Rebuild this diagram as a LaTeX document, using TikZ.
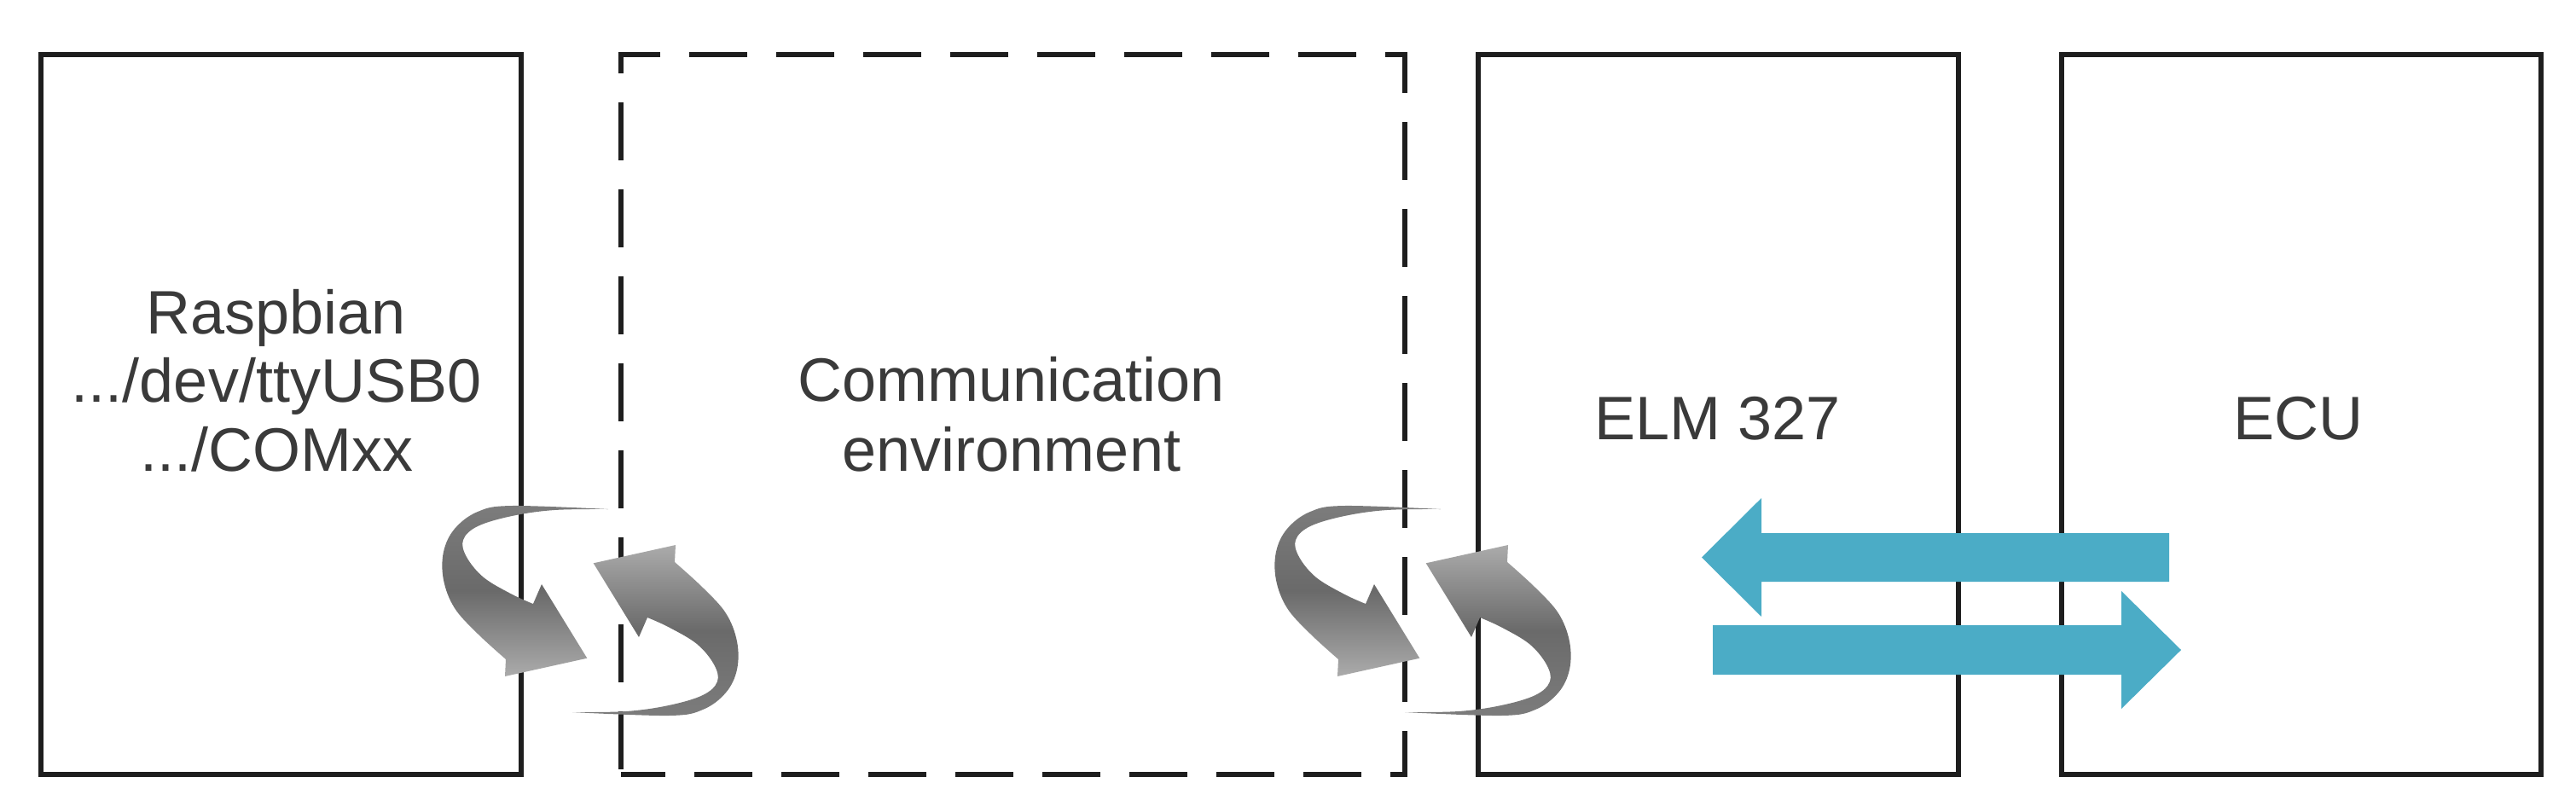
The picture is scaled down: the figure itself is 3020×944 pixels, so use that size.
\documentclass[tikz,border=0pt]{standalone}
\usepackage{fontspec}
\setmainfont{Liberation Sans}
\definecolor{ln}{HTML}{1E1E1E}
\definecolor{tx}{HTML}{3A3A3A}
\definecolor{bl}{HTML}{4BACC6}
\definecolor{gdark}{HTML}{6A6A6A}
\definecolor{gmid}{HTML}{7C7C7C}
\definecolor{glight}{HTML}{ABABAB}
\newcommand{\swirlpath}[1]{%
  plot[smooth, tension=0.6] coordinates {
    ({#1*(21)},{#1*(-119)}) ({#1*(-92)},{#1*(-123)}) ({#1*(-132)},{#1*(-116)})
    ({#1*(-159)},{#1*(-96)}) ({#1*(-172)},{#1*(-69)}) ({#1*(-172)},{#1*(-36)})
    ({#1*(-159)},{#1*(-3)}) ({#1*(-132)},{#1*(27)}) ({#1*(-99)},{#1*(57)})}
  -- ({#1*(-100)},{#1*(77)}) -- ({#1*(-3.7)},{#1*(55.7)}) -- ({#1*(-57)},{#1*(-31)})
  -- plot[smooth, tension=0.6] coordinates {
    ({#1*(-67)},{#1*(-8)}) ({#1*(-92)},{#1*(-19.3)}) ({#1*(-125)},{#1*(-39)})
    ({#1*(-145)},{#1*(-63)}) ({#1*(-149)},{#1*(-83)}) ({#1*(-132)},{#1*(-99)})
    ({#1*(-92)},{#1*(-111)}) ({#1*(-42)},{#1*(-118)}) ({#1*(21)},{#1*(-119)})}
  -- cycle}
\tikzset{
  box/.style={draw=ln, line width=2.6pt, minimum width=#1, minimum height=422pt, inner sep=0pt},
  lbl/.style={font=\fontsize{36pt}{40pt}\selectfont, text=tx, inner sep=0pt, anchor=base},
  bigarrow/.style={fill=bl},
  swirldown/.style={top color=gmid, bottom color=glight, middle color=gdark},
  swirlup/.style={top color=glight, bottom color=gmid, middle color=gdark}
}
\begin{document}
\begin{tikzpicture}[x=0.5pt, y=-0.5pt]
\useasboundingbox (0,0) rectangle (3020,944);
% boxes
\node[box=281.5pt] (rpi) at (329.5,486) {};
\node[box=459.5pt, dash pattern=on 34pt off 17pt, dash phase=8pt] (comm) at (1187.5,486) {};
\node[box=281.5pt] (elm) at (2014.5,486) {};
\node[box=281pt] (ecu) at (2698,486) {};
% labels
\node[lbl] (r1) at (324,391) {Raspbian};
\node[lbl] (r2) at (324,471) {.../dev/ttyUSB0};
\node[lbl] (r3) at (324,552) {.../COMxx};
\node[lbl] (c1) at (1186,470) {Communication};
\node[lbl] (c2) at (1186,552) {environment};
\node[lbl] (e1) at (2014,515) {ELM 327};
\node[lbl] (e2) at (2694,515) {ECU};
% blue arrows
\fill[bigarrow] (2543,625) -- (2065,625) -- (2065,584) -- (1995,653.5) -- (2065,723) -- (2065,682) -- (2543,682) -- cycle;
\fill[bigarrow] (2008,733) -- (2487,733) -- (2487,693) -- (2557,762) -- (2487,831) -- (2487,791) -- (2008,791) -- cycle;
% swirl arrows
\begin{scope}[shift={(692,716)}]
  \path[swirldown] \swirlpath{1};
  \path[swirlup] \swirlpath{-1};
\end{scope}
\begin{scope}[shift={(1668,716)}]
  \path[swirldown] \swirlpath{1};
  \path[swirlup] \swirlpath{-1};
\end{scope}
\end{tikzpicture}
\end{document}
